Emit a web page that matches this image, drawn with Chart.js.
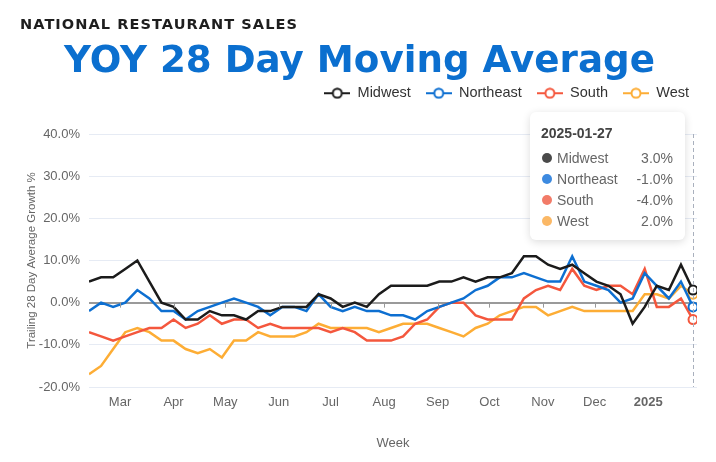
<!DOCTYPE html>
<html>
<head>
<meta charset="utf-8">
<script src="https://cdn.jsdelivr.net/npm/chart.js@4/dist/chart.umd.min.js"></script>
<style>
  html, body { margin: 0; padding: 0; background: #fff; }
  #wrap { position: relative; width: 716px; height: 462px; overflow: hidden; }
  .head { position: absolute; white-space: nowrap; font-family: "DejaVu Sans", sans-serif; font-weight: bold; transform-origin: 0 0; }
  #kicker { left: 20px; top: 17px; font-size: 14px; line-height: 14px; letter-spacing: 1px; color: #1e1e1e; }
  #headline { left: 64px; top: 40px; font-size: 38px; line-height: 38px; color: #0b6fcf; }
  #tip {
    position: absolute; display: none; width: 155px; height: 128px; box-sizing: border-box;
    background: #fff; border-radius: 6px; box-shadow: 0 2px 8px rgba(0,0,0,0.14);
    font: 14px "Liberation Sans", Arial, sans-serif; color: #666; padding: 0 12px 0 11px;
  }
  #tip .ttl { font-weight: bold; color: #444; margin-top: 13px; height: 22px; line-height: 16px; }
  #tip .row { display: flex; align-items: center; height: 21px; }
  #tip .dot { width: 10px; height: 10px; border-radius: 50%; margin: 0 5px 0 1px; }
  #tip .val { margin-left: auto; }
  canvas { display: block; }
</style>
</head>
<body>
<div id="wrap">
  <canvas id="chart" width="716" height="462"></canvas>
  <div id="kicker" class="head">NATIONAL RESTAURANT SALES</div>
  <div id="headline" class="head">YOY 28 Day Moving Average</div>
  <div id="tip"></div>
</div>
<script>
// weekly points (Mondays)
const weeks = [
  "2024-02-12", "2024-02-19", "2024-02-26", "2024-03-04", "2024-03-11", "2024-03-18", "2024-03-25",
  "2024-04-01", "2024-04-08", "2024-04-15", "2024-04-22", "2024-04-29", "2024-05-06", "2024-05-13",
  "2024-05-20", "2024-05-27", "2024-06-03", "2024-06-10", "2024-06-17", "2024-06-24", "2024-07-01",
  "2024-07-08", "2024-07-15", "2024-07-22", "2024-07-29", "2024-08-05", "2024-08-12", "2024-08-19",
  "2024-08-26", "2024-09-02", "2024-09-09", "2024-09-16", "2024-09-23", "2024-09-30", "2024-10-07",
  "2024-10-14", "2024-10-21", "2024-10-28", "2024-11-04", "2024-11-11", "2024-11-18", "2024-11-25",
  "2024-12-02", "2024-12-09", "2024-12-16", "2024-12-23", "2024-12-30", "2025-01-06", "2025-01-13",
  "2025-01-20", "2025-01-27"
];

const midwest = [5, 6, 6, 8, 10, 5, 0, -1, -4, -4, -2, -3, -3, -4, -2, -2, -1, -1, -1, 2, 1, -1, 0, -1, 2,
  4, 4, 4, 4, 5, 5, 6, 5, 6, 6, 7, 11, 11, 9, 8, 9, 7, 5, 4, 2, -5, -1, 4, 3, 9, 3];
const northeast = [-2, 0, -1, 0, 3, 1, -2, -2, -4, -2, -1, 0, 1, 0, -1, -3, -1, -1, -2, 2, -1, -2, -1, -2, -2,
  -3, -3, -4, -2, -1, 0, 1, 3, 4, 6, 6, 7, 6, 5, 5, 11, 5, 4, 3, 0, 1, 7, 4, 1, 5, -1];
const south = [-7, -8, -9, -8, -7, -6, -6, -4, -6, -5, -3, -5, -4, -4, -6, -5, -6, -6, -6, -6, -7, -6, -7, -9, -9,
  -9, -8, -5, -4, -1, 0, 0, -3, -4, -4, -4, 1, 3, 4, 3, 8, 4, 3, 4, 4, 2, 8, -1, -1, 1, -4];
const west = [-17, -15, -11, -7, -6, -7, -9, -9, -11, -12, -11, -13, -9, -9, -7, -8, -8, -8, -7, -5, -6, -6, -6, -6, -7,
  -6, -5, -5, -5, -6, -7, -8, -6, -5, -3, -2, -1, -1, -3, -2, -1, -2, -2, -2, -2, -2, 2, 2, 1, 4, 2];

const seriesNames = ["Midwest", "Northeast", "South", "West"];
const seriesValues = [midwest, northeast, south, west];
const lineColors = ["#1b1b1b", "#0d6fd1", "#f4573d", "#fdad35"];
const dotColors = ["#4a4a4a", "#3d8ae0", "#f27b68", "#fbb866"];

const monthTicks = ["2024-03-01", "2024-04-01", "2024-05-01", "2024-06-01", "2024-07-01", "2024-08-01",
  "2024-09-01", "2024-10-01", "2024-11-01", "2024-12-01", "2025-01-01"];
const monthLabels = ["Mar", "Apr", "May", "Jun", "Jul", "Aug", "Sep", "Oct", "Nov", "Dec", "2025"];

const yTicks = [-20, -10, 0, 10, 20, 30, 40];

const day = (d) => (Date.parse(d) - Date.parse(weeks[0])) / 864e5;
const lastIdx = weeks.length - 1;
const FONT = "'Liberation Sans', Arial, sans-serif";

// stretch the headings to the width they have in the original
const fitWidth = (id, w) => {
  const el = document.getElementById(id);
  el.style.transform = `scaleX(${w / el.getBoundingClientRect().width})`;
};
fitWidth("kicker", 278);
fitWidth("headline", 591);

// little "-O-" icons for the legend
const legendIcon = (color) => {
  const c = document.createElement("canvas");
  c.width = 26;
  c.height = 12;
  const g = c.getContext("2d");
  g.strokeStyle = color;
  g.lineWidth = 2;
  g.beginPath();
  g.moveTo(0, 6);
  g.lineTo(26, 6);
  g.stroke();
  g.beginPath();
  g.arc(13, 6, 4.5, 0, Math.PI * 2);
  g.fillStyle = "#fff";
  g.fill();
  g.stroke();
  return c;
};

// room between legend and plot, and push the legend a bit right
const legendSpace = {
  id: "legendSpace",
  beforeInit(chart) {
    const legend = chart.legend;
    const fit = legend.fit;
    legend.fit = function () {
      fit.call(this);
      this.height = 63;
    };
    const draw = legend.draw;
    legend.draw = function (...args) {
      this.ctx.save();
      this.ctx.translate(7, 0);
      draw.apply(this, args);
      this.ctx.restore();
    };
  },
};

// zero-line tick marks + dashed crosshair at the hovered week
const decorations = {
  id: "decorations",
  afterDatasetsDraw(chart) {
    const { ctx, scales: { x, y }, chartArea } = chart;
    const y0 = y.getPixelForValue(0);
    ctx.save();
    ctx.strokeStyle = "#999";
    ctx.lineWidth = 1;
    x.ticks.forEach((t) => {
      const px = Math.round(x.getPixelForValue(t.value)) + 0.5;
      ctx.beginPath();
      ctx.moveTo(px, y0);
      ctx.lineTo(px, y0 + 5);
      ctx.stroke();
    });
    const act = chart.getActiveElements();
    if (act.length) {
      const px = Math.round(act[0].element.x) + 0.5;
      ctx.strokeStyle = "#a9b0bd";
      ctx.setLineDash([4, 3]);
      ctx.beginPath();
      ctx.moveTo(px, chartArea.top);
      ctx.lineTo(px, chartArea.bottom);
      ctx.stroke();
    }
    ctx.restore();
  },
};

const tipEl = document.getElementById("tip");
const externalTooltip = ({ chart, tooltip }) => {
  if (tooltip.opacity === 0 || !tooltip.dataPoints || !tooltip.dataPoints.length) {
    tipEl.style.display = "none";
    return;
  }
  const i = tooltip.dataPoints[0].dataIndex;
  let html = `<div class="ttl">${weeks[i]}</div>`;
  tooltip.dataPoints.forEach((p) => {
    html += `<div class="row"><span class="dot" style="background:${dotColors[p.datasetIndex]}"></span>` +
      `<span>${p.dataset.label}</span><span class="val">${p.parsed.y.toFixed(1)}%</span></div>`;
  });
  tipEl.innerHTML = html;
  tipEl.style.display = "block";
  tipEl.style.left = tooltip.caretX - 163 + "px";
  tipEl.style.top = chart.chartArea.top - 22 + "px";
};

const chart = new Chart(document.getElementById("chart"), {
  type: "line",
  data: {
    datasets: seriesNames.map((name, s) => ({
      label: name,
      data: seriesValues[s].map((v, i) => ({ x: day(weeks[i]), y: v })),
      borderColor: lineColors[s],
      backgroundColor: lineColors[s],
      borderWidth: 2.5,
      tension: 0,
      pointRadius: 0,
      pointHoverRadius: 4.5,
      pointHoverBorderWidth: 2,
      pointHoverBackgroundColor: "#fff",
      pointHoverBorderColor: lineColors[s],
    })),
  },
  options: {
    responsive: false,
    animation: false,
    layout: { padding: { top: 71, left: 20, right: 19, bottom: 7 } },
    interaction: { mode: "index", intersect: false },
    plugins: {
      legend: {
        position: "top",
        align: "end",
        labels: {
          usePointStyle: true,
          pointStyleWidth: 26,
          padding: 15,
          color: "#333",
          font: { family: FONT, size: 14.5 },
          generateLabels: (c) =>
            Chart.defaults.plugins.legend.labels.generateLabels(c).map((item) => ({
              ...item,
              pointStyle: legendIcon(lineColors[item.datasetIndex]),
            })),
        },
      },
      tooltip: { enabled: false, external: externalTooltip },
    },
    scales: {
      x: {
        type: "linear",
        min: 0,
        max: day(weeks[lastIdx]) + 2.3,
        afterBuildTicks: (scale) => {
          scale.ticks = monthTicks.map((d) => ({ value: day(d) }));
        },
        afterFit: (scale) => {
          scale.height = 68;
        },
        grid: { display: false, drawTicks: false },
        border: { display: false },
        ticks: {
          padding: 8,
          autoSkip: false,
          maxRotation: 0,
          color: "#666",
          font: (ctx) => ({ family: FONT, size: 13, weight: ctx.index === monthLabels.length - 1 ? "bold" : "normal" }),
          callback: (v, i) => monthLabels[i],
        },
        title: { display: true, text: "Week", color: "#666", font: { family: FONT, size: 13 }, padding: { top: 4, bottom: 4 } },
      },
      y: {
        min: yTicks[0],
        max: yTicks[yTicks.length - 1],
        afterBuildTicks: (scale) => {
          scale.ticks = yTicks.map((v) => ({ value: v }));
        },
        afterFit: (scale) => {
          scale.width = 69;
        },
        grid: {
          drawTicks: false,
          color: (ctx) => (ctx.tick && ctx.tick.value === 0 ? "#9a9a9a" : "#e6ebf4"),
          lineWidth: (ctx) => (ctx.tick && ctx.tick.value === 0 ? 2 : 1),
        },
        border: { display: false },
        ticks: {
          padding: 9,
          color: "#666",
          font: { family: FONT, size: 13 },
          callback: (v) => v.toFixed(1) + "%",
        },
        title: {
          display: true,
          text: "Trailing 28 Day Average Growth %",
          color: "#666",
          font: { family: FONT, size: 11.5 },
          padding: { top: 5, bottom: 4 },
        },
      },
    },
  },
  plugins: [legendSpace, decorations],
});

const active = seriesNames.map((n, s) => ({ datasetIndex: s, index: lastIdx }));
chart.setActiveElements(active);
chart.tooltip.setActiveElements(active, { x: 0, y: 0 });
chart.update();
</script>
</body>
</html>
